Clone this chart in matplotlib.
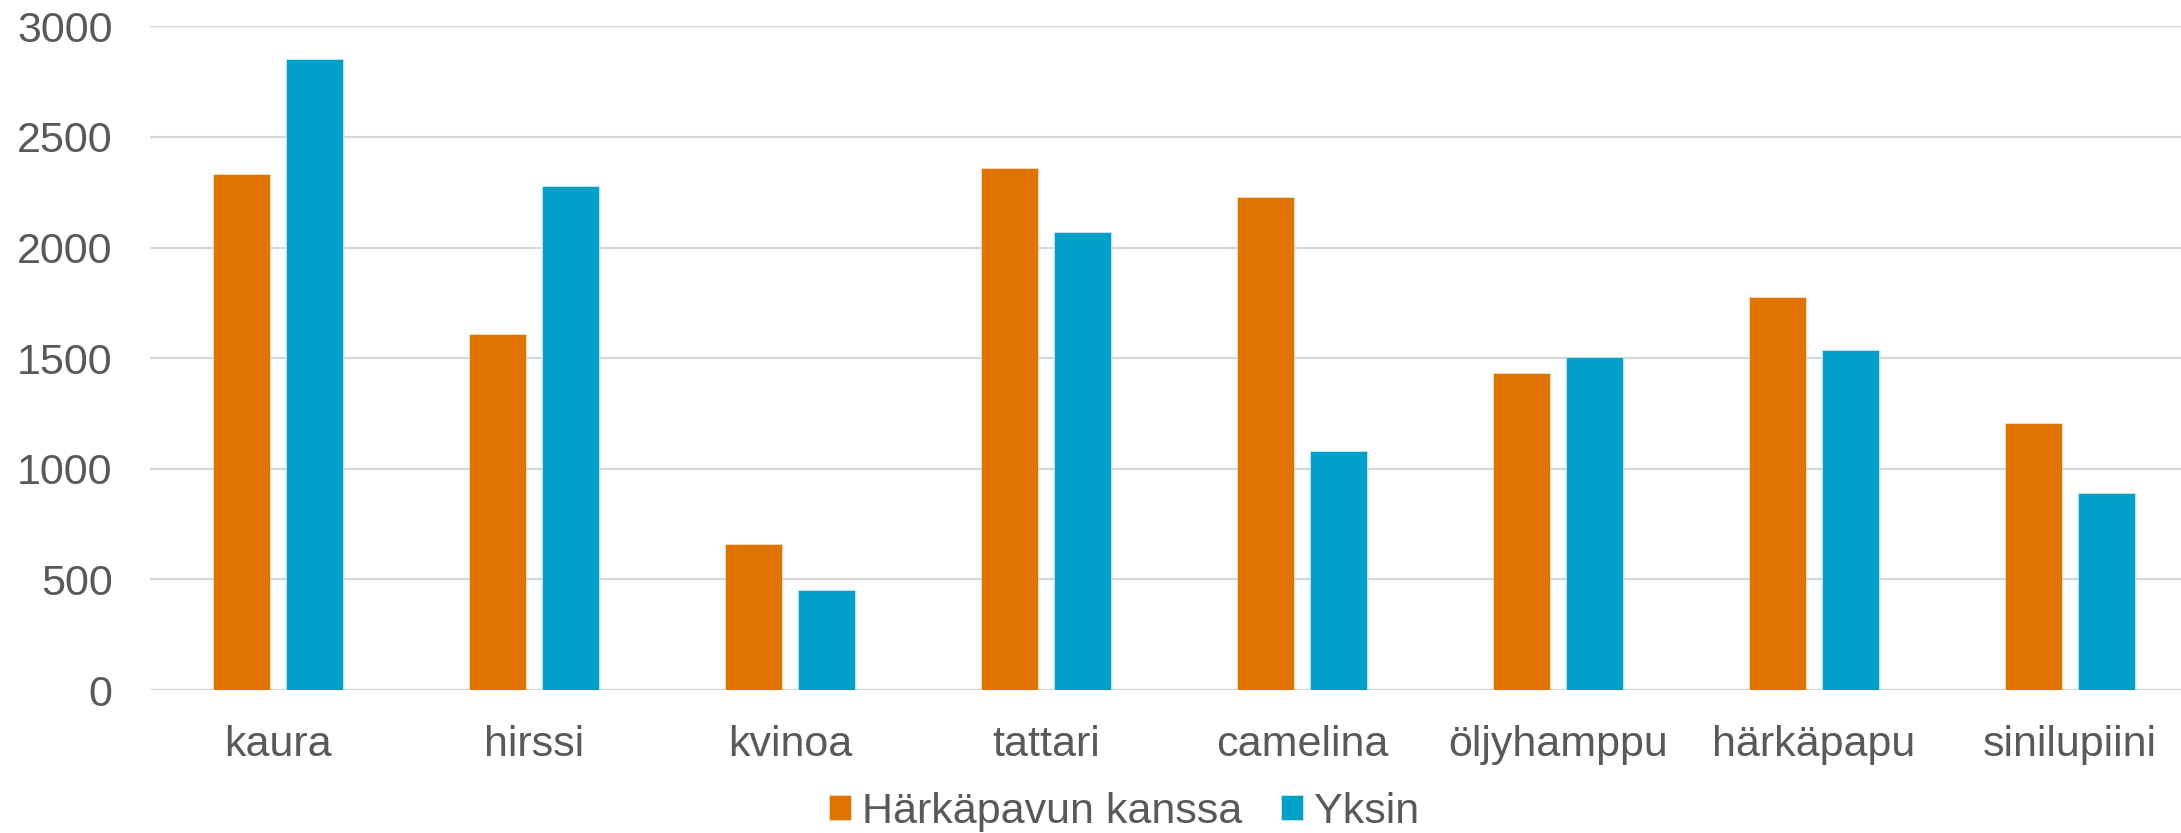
import matplotlib
matplotlib.use("Agg")
import matplotlib.pyplot as plt
import numpy as np

categories = ["kaura", "hirssi", "kvinoa", "tattari", "camelina", "öljyhamppu", "härkäpapu", "sinilupiini"]
series_names = ["Härkäpavun kanssa", "Yksin"]
with_faba = [2333, 1609, 659, 2358, 2227, 1434, 1775, 1206]
alone = [2851, 2278, 451, 2071, 1080, 1507, 1537, 889]
yticks = [0, 500, 1000, 1500, 2000, 2500, 3000]

plt.rcParams['font.family'] = ['Liberation Sans', 'DejaVu Sans']
W, H, DPI = 2181, 833, 100
fig = plt.figure(figsize=(W / DPI, H / DPI), dpi=DPI)
left, right = 150 / W, 2198 / W
bottom, top = (H - 690) / H, (H - 26.4) / H
ax = fig.add_axes([left, bottom, right - left, top - bottom])

x = np.arange(len(categories))
bw = 0.2246
off = 0.1428
c_orange = "#DF7400"
c_blue = "#00A0C8"
ax.bar(x - off, with_faba, width=bw, color=c_orange, edgecolor="#F6D9B8", linewidth=0.7,
       label=series_names[0], zorder=3)
ax.bar(x + off, alone, width=bw, color=c_blue, edgecolor="#BFE6F0", linewidth=0.7,
       label=series_names[1], zorder=3)

ax.set_xlim(-0.5, len(categories) - 0.5)
ax.set_ylim(0, 3000)
ax.set_yticks(yticks)
ax.set_yticklabels([str(v) for v in yticks])
ax.set_xticks(x)
ax.set_xticklabels(categories)
ax.yaxis.grid(True, color="#D6D6D6", linewidth=1.6, zorder=0)
ax.set_axisbelow(True)
for s in ax.spines.values():
    s.set_visible(False)
ax.tick_params(axis='y', length=0, pad=27, labelsize=31, labelcolor="#595959")
ax.tick_params(axis='x', length=0, pad=25, labelsize=31, labelcolor="#595959")

leg = fig.legend(loc='center', bbox_to_anchor=(1124 / W, 21 / H), ncol=2, frameon=False,
                 fontsize=31, handlelength=0.52, handleheight=0.52, handletextpad=0.25,
                 columnspacing=0.9, borderpad=0, borderaxespad=0)
for t in leg.get_texts():
    t.set_color("#595959")

fig.savefig("out.png", dpi=DPI)
